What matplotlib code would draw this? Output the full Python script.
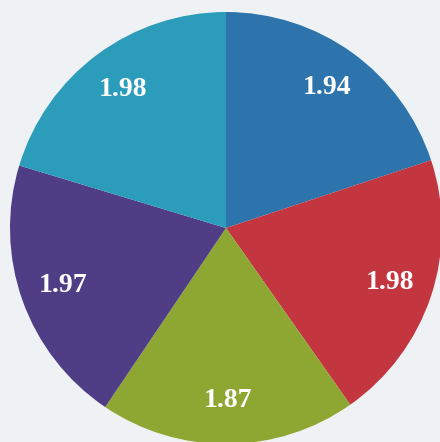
import matplotlib.pyplot as plt

values = [1.94, 1.98, 1.87, 1.97, 1.98]
labels = ['1.94', '1.98', '1.87', '1.97', '1.98']
colors = ['#2c74ab', '#c3353f', '#8ea733', '#4f3e86', '#2b9cba']

fig = plt.figure(figsize=(4.4, 4.42), dpi=100, facecolor='#eef2f5')
r = 216
cx, cy = 226, 228
ax = fig.add_axes([(cx - r) / 440, (442 - cy - r) / 442, 2 * r / 440, 2 * r / 442])
ax.set_facecolor('none')

wedges, texts = ax.pie(values, colors=colors, startangle=90, counterclock=False,
                       labels=labels, labeldistance=0.8,
                       textprops=dict(color='white', fontsize=20, fontweight='bold',
                                      family='Liberation Serif', ha='center', va='center'))
ax.set_xlim(-1, 1)
ax.set_ylim(-1, 1)
ax.set_aspect('equal')
ax.axis('off')

fig.savefig('out.png', dpi=100, facecolor=fig.get_facecolor())
